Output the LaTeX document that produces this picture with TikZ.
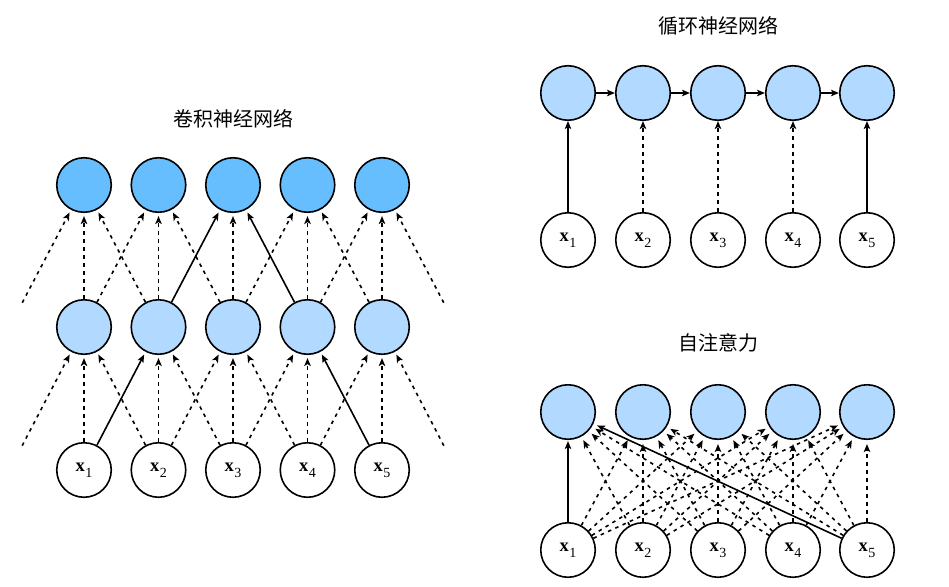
\documentclass[tikz,border=0pt]{standalone}
\usepackage{fontspec}
\newfontfamily\cjk{Noto Sans CJK SC}
\newfontfamily\tms{Liberation Serif}
\usetikzlibrary{arrows.meta}
\definecolor{dblue}{RGB}{102,190,255}
\definecolor{lblue}{RGB}{178,217,255}
\newcommand{\xlab}[1]{\tms\fontsize{18.5}{20}\selectfont\textbf{x}\kern0.6pt\raisebox{-6pt}{\fontsize{14}{16}\selectfont #1}}
\begin{document}
\begin{tikzpicture}[x=1pt,y=-1pt,
  nd/.style={circle,draw,line width=1.6pt,minimum size=54.5pt,inner sep=0pt},
  vn/.style={circle,minimum size=54.5pt,inner sep=0pt},
  edge/.style={line width=1.6pt,-{Stealth[length=8pt,width=6.5pt,inset=2pt]},shorten >=3pt},
  dedge/.style={edge,dash pattern=on 3.5pt off 4.5pt},
  ttl/.style={font=\cjk\fontsize{20}{24}\selectfont}]
\useasboundingbox (0,0) rectangle (949,586);

% ---------- CNN ----------
\node[ttl] (t1) at (233,119) {卷积神经网络};
\foreach \i/\x in {1/84,2/158.5,3/233,4/307.5,5/382} {
  \node[nd,fill=dblue] (ct\i) at (\x,185) {};
  \node[nd,fill=lblue] (cm\i) at (\x,327) {};
  \node[nd] (cb\i) at (\x,470) {\xlab{\i}};
}
\node[vn] (cm0) at (9.5,327) {};
\node[vn] (cm6) at (456.5,327) {};
\node[vn] (cb0) at (9.5,470) {};
\node[vn] (cb6) at (456.5,470) {};
\foreach \a/\b in {0/1,1/1,2/1,1/2,2/2,3/2,3/3,3/4,4/4,5/4,4/5,5/5,6/5}
  \draw[dedge] (cm\a) -- (ct\b);
\foreach \a/\b in {2/3,4/3}
  \draw[edge] (cm\a) -- (ct\b);
\foreach \a/\b in {0/1,1/1,2/1,2/2,3/2,2/3,3/3,4/3,3/4,4/4,4/5,5/5,6/5}
  \draw[dedge] (cb\a) -- (cm\b);
\foreach \a/\b in {1/2,5/4}
  \draw[edge] (cb\a) -- (cm\b);

% ---------- RNN ----------
\node[ttl] (t2) at (718,26) {循环神经网络};
\foreach \i/\x in {1/568,2/643,3/718,4/793,5/867} {
  \node[nd,fill=lblue] (rh\i) at (\x,93) {};
  \node[nd] (rx\i) at (\x,240) {\xlab{\i}};
}
\foreach \a/\b in {1/2,2/3,3/4,4/5}
  \draw[edge,shorten >=0pt] (rh\a) -- (rh\b);
\draw[edge,shorten >=0pt] (rx1) -- (rh1);
\draw[edge,shorten >=0pt] (rx5) -- (rh5);
\foreach \i in {2,3,4}
  \draw[dedge,shorten >=0pt] (rx\i) -- (rh\i);

% ---------- Self-attention ----------
\node[ttl] (t3) at (718,343) {自注意力};
\foreach \i/\x in {1/568,2/643,3/718,4/793,5/867} {
  \node[nd,fill=lblue] (sh\i) at (\x,412) {};
  \node[nd] (sx\i) at (\x,550) {\xlab{\i}};
}
\foreach \j in {1,...,5}
  \foreach \i in {1,...,5} {
    \ifnum\i=1
      \ifnum\j=1 \else\ifnum\j=5 \else
        \draw[dedge,shorten >=4pt] (sx\j) -- (sh\i);
      \fi\fi
    \else
      \draw[dedge,shorten >=4pt] (sx\j) -- (sh\i);
    \fi
  }
\draw[edge,shorten >=1pt] (sx1) -- (sh1);
\draw[edge,shorten >=4pt] (sx5) -- (sh1);
\end{tikzpicture}
\end{document}
